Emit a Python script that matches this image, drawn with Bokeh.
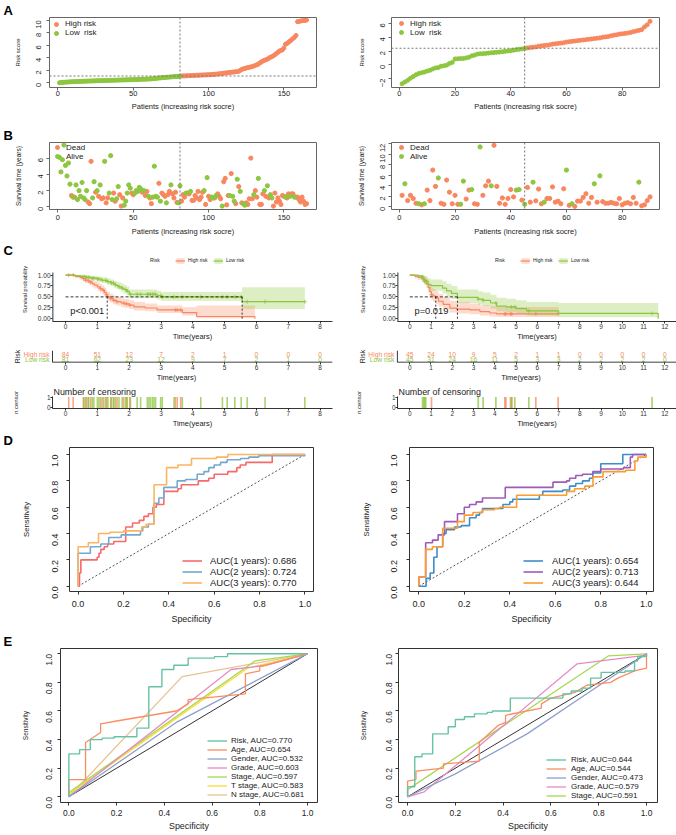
import math
import numpy as np
from bokeh.plotting import figure
from bokeh.models import (Range1d, Legend, LegendItem, FixedTicker, Span, PrintfTickFormatter)
from bokeh.layouts import column, row
from bokeh.embed import file_html
from bokeh.resources import INLINE
from bokeh.core.properties import value

# ============================ DATA ============================
# --- A: risk scores (sorted), train (left) and test (right) ---
train_low_risk = [0.02, 0.05, 0.08, 0.1, 0.12, 0.13, 0.15, 0.16, 0.18, 0.19,
                  0.2, 0.21, 0.22, 0.23, 0.24, 0.25, 0.26, 0.27, 0.28, 0.29,
                  0.3, 0.31, 0.31, 0.32, 0.33, 0.34, 0.35, 0.35, 0.36, 0.37,
                  0.38, 0.38, 0.39, 0.4, 0.41, 0.41, 0.42, 0.43, 0.44, 0.45,
                  0.45, 0.46, 0.47, 0.48, 0.48, 0.49, 0.5, 0.51, 0.51, 0.52,
                  0.53, 0.54, 0.55, 0.56, 0.57, 0.58, 0.59, 0.6, 0.61, 0.62,
                  0.63, 0.65, 0.67, 0.7, 0.72, 0.75, 0.78, 0.8, 0.82, 0.85,
                  0.87, 0.89, 0.91, 0.93, 0.95, 0.97, 0.99, 1.01, 1.03, 1.05,
                  1.08]
train_high_risk = [1.1, 1.11, 1.12, 1.13, 1.14, 1.15, 1.16, 1.18, 1.2,
                   1.21, 1.22, 1.23, 1.24, 1.25, 1.26, 1.27, 1.28, 1.29, 1.3,
                   1.32, 1.34, 1.36, 1.38, 1.4, 1.42, 1.45, 1.48, 1.52, 1.55,
                   1.58, 1.6, 1.63, 1.66, 1.7, 1.72, 1.75, 1.78, 1.8, 1.85,
                   2.0, 2.15, 2.25, 2.3, 2.38, 2.45, 2.5, 2.55, 2.62, 2.7,
                   2.8, 2.9, 3.0, 3.2, 3.35, 3.5, 3.6, 3.7, 3.8, 3.95,
                   4.1, 4.2, 4.35, 4.5, 4.7, 4.9, 5.1, 5.2, 5.3, 5.6,
                   6.2, 6.3, 6.5, 6.7, 6.9, 7.1, 7.3, 7.6, 9.8, 9.85,
                   9.9, 9.95, 10.0, 10.0, 10.05]
train_cutoff = 1.1
test_low_risk = [-2.75, -2.5, -2.25, -1.95, -1.7, -1.45, -1.25, -1.15, -1.05, -0.9,
                 -0.8, -0.6, -0.45, -0.4, -0.2, -0.15, -0.05, 0.2, 0.35, 0.85,
                 0.88, 0.9, 0.92, 1.0, 1.1, 1.3, 1.4, 1.55, 1.6, 1.62,
                 1.65, 1.7, 1.75, 1.78, 1.82, 1.85, 1.9, 1.95, 2.0, 2.05,
                 2.12, 2.2, 2.25, 2.3, 2.38]
test_high_risk = [2.45, 2.5, 2.55, 2.6, 2.7, 2.75, 2.8, 2.85, 2.9, 3.0,
                  3.05, 3.1, 3.15, 3.2, 3.3, 3.35, 3.4, 3.45, 3.5, 3.55,
                  3.6, 3.65, 3.7, 3.75, 3.8, 3.85, 3.9, 4.0, 4.05, 4.1,
                  4.2, 4.3, 4.35, 4.45, 4.5, 4.55, 4.6, 4.7, 4.8, 4.9,
                  5.0, 5.1, 5.5, 5.8, 6.3]
test_cutoff = 2.4

# --- B: survival time (years) and status (1 = dead) in risk order ---
train_low_time = [6.1, 4.3, 5.8, 7.6, 5.1, 3.8, 5.4, 2.8, 1.4, 1.2,
                  1.2, 2.7, 0.9, 2.0, 1.3, 3.0, 1.1, 0.9, 2.0, 0.6,
                  0.4, 5.6, 1.1, 3.1, 1.8, 2.0, 1.3, 2.7, 1.0, 1.1,
                  5.6, 0.5, 1.1, 1.7, 6.3, 0.9, 1.7, 0.7, 1.0, 2.5,
                  1.5, 0.1, 1.1, 0.2, 0.7, 1.7, 2.7, 2.3, 1.7, 1.5,
                  1.7, 2.0, 1.9, 2.4, 2.2, 1.8, 2.0, 1.4, 1.9, 1.3,
                  1.1, 0.4, 1.2, 5.0, 1.3, 1.2, 2.9, 0.7, 1.7, 1.5,
                  1.3, 0.5, 1.5, 1.9, 2.7, 1.6, 1.1, 1.8, 0.55, 0.5,
                  2.6]
train_low_dead = [0, 0, 0, 0, 0, 0, 0, 0, 1, 0,
                  1, 0, 0, 0, 0, 0, 0, 0, 0, 1,
                  1, 1, 0, 0, 1, 0, 1, 0, 1, 1,
                  0, 1, 1, 0, 0, 0, 1, 1, 0, 0,
                  1, 1, 1, 0, 0, 0, 0, 0, 1, 1,
                  0, 0, 0, 0, 0, 1, 0, 1, 1, 0,
                  1, 1, 0, 0, 0, 0, 1, 0, 1, 1,
                  1, 0, 1, 1, 0, 1, 1, 1, 1, 0,
                  0]
train_high_time = [0.7, 1.5, 1.2, 1.7, 1.7, 1.6, 1.9, 0.8, 0.8, 1.4,
                   1.1, 1.9, 0.9, 1.2, 1.8, 2.0, 0.3, 3.6, 1.3, 0.9,
                   1.2, 1.1, 1.1, 1.4, 1.6, 1.3, 1.0, 0.1, 3.1, 3.5,
                   0.25, 1.4, 1.4, 4.1, 1.3, 0.7, 0.4, 3.4, 2.5, 1.9,
                   0.5, 0.4, 0.2, 0.5, 0.3, 1.0, 6.0, 1.0, 1.5, 2.0,
                   1.2, 3.5, 0.3, 0.3, 1.6, 2.0, 1.3, 2.6, 1.1, 1.5,
                   1.1, 0.1, 1.7, 0.6, 1.1, 0.7, 0.3, 1.4, 1.3, 1.2,
                   1.1, 1.6, 1.3, 1.6, 1.6, 1.2, 1.2, 1.2, 0.9, 0.6,
                   1.2, 0.7, 0.3, 0.4]
train_high_dead = [1, 1, 1, 0, 1, 1, 0, 1, 1, 1,
                   1, 1, 1, 1, 1, 0, 1, 0, 1, 1,
                   0, 0, 1, 0, 1, 1, 1, 0, 1, 1,
                   1, 1, 0, 1, 0, 0, 1, 0, 1, 0,
                   1, 0, 0, 1, 1, 1, 1, 1, 0, 1,
                   1, 0, 1, 1, 1, 0, 1, 0, 1, 0,
                   0, 1, 1, 1, 1, 1, 1, 1, 1, 0,
                   1, 1, 0, 1, 1, 0, 1, 1, 1, 1,
                   1, 1, 1, 1]
test_low_time = [2.2, 4.4, 1.2, 2.2, 1.6, 0.7, 0.6, 0.4, 0.6, 3.2,
                 1.2, 7.0, 3.9, 5.5, 0.7, 0.5, 5.1, 2.8, 0.6, 2.2,
                 0.5, 0.5, 4.9, 1.5, 3.2, 3.3, 0.6, 0.5, 11.4, 2.2,
                 4.0, 4.9, 4.0, 11.7, 3.9, 0.7, 1.7, 0.5, 1.6, 3.3,
                 1.9, 3.2, 3.3, 1.3, 0.5]
test_low_dead = [1, 0, 1, 1, 1, 1, 0, 1, 0, 1,
                 1, 1, 1, 0, 1, 1, 1, 1, 1, 1,
                 1, 0, 0, 1, 1, 0, 1, 1, 0, 1,
                 1, 1, 0, 1, 1, 1, 1, 1, 1, 1,
                 1, 0, 0, 1, 0]
test_high_time = [3.7, 0.9, 4.7, 1.15, 3.4, 0.6, 0.9, 1.6, 1.6, 3.8,
                  0.9, 1.1, 0.6, 3.45, 7.0, 0.3, 0.6, 0.1, 1.1, 1.1,
                  1.8, 2.5, 0.7, 1.8, 4.4, 0.9, 5.9, 1.0, 0.7, 0.7,
                  0.85, 0.7, 0.6, 1.6, 0.4, 0.7, 0.8, 0.6, 1.8, 0.7,
                  4.7, 0.2, 0.4, 1.2, 1.9]
test_high_dead = [1, 1, 0, 1, 1, 1, 0, 1, 1, 1,
                  1, 1, 1, 1, 0, 1, 0, 1, 1, 1,
                  1, 1, 1, 1, 0, 1, 0, 1, 1, 1,
                  1, 1, 1, 1, 1, 1, 1, 1, 1, 1,
                  0, 1, 1, 1, 1]

# --- C: Kaplan-Meier estimates (time, survival, lower CI, upper CI) ---
km_train_high_t = [0, 0.3, 0.45, 0.55, 0.63, 0.73, 0.84, 0.91, 1.0, 1.08, 1.15, 1.22, 1.28,
                   1.31, 1.4, 1.5, 1.6, 1.75, 1.85, 2.0, 2.15, 2.5, 2.88, 3.67, 4.12, 5.95]
km_train_high_s = [1.0, 0.97, 0.95, 0.92, 0.88, 0.84, 0.8, 0.77, 0.73, 0.69, 0.65, 0.6, 0.55,
                   0.5, 0.46, 0.42, 0.39, 0.36, 0.34, 0.31, 0.27, 0.245, 0.2, 0.14, 0.05, 0.0]
km_train_high_lo = [1.0, 0.93, 0.9, 0.86, 0.82, 0.77, 0.72, 0.69, 0.64, 0.6, 0.56, 0.51, 0.46,
                    0.41, 0.37, 0.33, 0.3, 0.27, 0.25, 0.22, 0.19, 0.17, 0.13, 0.07, 0.01, 0.0]
km_train_high_up = [1.0, 1.0, 0.99, 0.98, 0.95, 0.92, 0.89, 0.86, 0.83, 0.79, 0.76, 0.71, 0.66,
                    0.61, 0.57, 0.53, 0.5, 0.47, 0.45, 0.42, 0.38, 0.35, 0.3, 0.26, 0.3, 0.3]
km_train_low_t = [0, 0.3, 0.47, 0.65, 0.8, 1.0, 1.15, 1.31, 1.42, 1.52, 1.6, 1.68, 1.76,
                  1.83, 1.92, 2.0, 2.88, 3.0, 5.55, 7.52]
km_train_low_s = [1.0, 0.99, 0.97, 0.95, 0.93, 0.91, 0.88, 0.85, 0.82, 0.78, 0.76, 0.73, 0.7,
                  0.67, 0.63, 0.56, 0.53, 0.5, 0.39, 0.39]
km_train_low_lo = [1.0, 0.97, 0.94, 0.91, 0.88, 0.85, 0.82, 0.78, 0.75, 0.71, 0.68, 0.65, 0.62,
                   0.58, 0.54, 0.47, 0.44, 0.41, 0.22, 0.22]
km_train_low_up = [1.0, 1.0, 1.0, 0.99, 0.98, 0.97, 0.95, 0.93, 0.9, 0.87, 0.85, 0.83, 0.8,
                   0.77, 0.74, 0.67, 0.64, 0.61, 0.72, 0.72]
km_test_high_t = [0, 0.24, 0.39, 0.55, 0.66, 0.78, 0.86, 0.94, 1.02, 1.1, 1.22, 1.35, 1.57,
                  1.88, 2.2, 2.82, 3.3, 3.76, 4.08, 7.0]
km_test_high_s = [1.0, 0.97, 0.95, 0.92, 0.88, 0.8, 0.72, 0.62, 0.55, 0.52, 0.47, 0.4, 0.33,
                  0.24, 0.22, 0.2, 0.16, 0.13, 0.11, 0.11]
km_test_high_lo = [1.0, 0.92, 0.89, 0.84, 0.79, 0.7, 0.6, 0.5, 0.43, 0.39, 0.34, 0.28, 0.21,
                   0.14, 0.12, 0.1, 0.07, 0.05, 0.04, 0.04]
km_test_high_up = [1.0, 1.0, 1.0, 1.0, 0.98, 0.92, 0.85, 0.77, 0.7, 0.68, 0.63, 0.56, 0.5,
                   0.41, 0.38, 0.35, 0.31, 0.29, 0.27, 0.27]
km_test_low_t = [0, 0.4, 0.55, 0.62, 0.7, 0.86, 1.0, 1.54, 1.73, 1.96, 2.24, 3.22, 3.45,
                 3.8, 4.08, 4.55, 5.0, 5.5, 7.0, 11.69]
km_test_low_s = [1.0, 0.98, 0.96, 0.91, 0.86, 0.78, 0.76, 0.7, 0.64, 0.58, 0.49, 0.45, 0.42,
                 0.36, 0.29, 0.27, 0.23, 0.18, 0.12, 0.0]
km_test_low_lo = [1.0, 0.94, 0.9, 0.83, 0.77, 0.67, 0.64, 0.58, 0.51, 0.45, 0.36, 0.32, 0.29,
                  0.23, 0.17, 0.15, 0.11, 0.07, 0.03, 0.0]
km_test_low_up = [1.0, 1.0, 1.0, 0.99, 0.97, 0.92, 0.9, 0.86, 0.8, 0.75, 0.67, 0.63, 0.6,
                  0.55, 0.48, 0.46, 0.42, 0.38, 0.36, 0.0]
train_medians = [1.31, 5.55]
test_medians = [1.22, 2.24]
train_pval = "p<0.001"
test_pval = "p=0.019"
train_censor_high = [0.1, 0.24, 0.56, 0.63, 0.71, 0.79, 1.1, 1.2, 1.29, 1.42, 1.52, 1.62,
                     1.83, 1.92, 2.02, 3.45, 3.51, 3.62]
train_censor_low = [0.58, 0.66, 0.73, 0.84, 0.89, 1.0, 1.05, 1.15, 1.26, 1.33, 1.44, 1.5,
                    1.57, 1.68, 1.78, 1.89, 1.94, 2.04, 2.25, 2.36, 2.57, 2.62, 2.67, 2.73,
                    2.78, 2.83, 2.99, 3.04, 3.41, 3.67, 4.25, 4.93, 5.08, 5.32, 5.52, 5.71,
                    6.27, 7.52]
test_censor_high = [1.02, 4.47, 4.52, 4.74, 4.8, 5.93, 6.98]
test_censor_low = [0.6, 0.66, 0.7, 0.75, 3.22, 3.45, 4.05, 4.78, 4.94, 5.6, 11.4]
train_risk_high = [84, 51, 12, 7, 2, 1, 0, 0, 0]
train_risk_low = [81, 62, 23, 12, 9, 7, 2, 1, 0]
test_risk_high = [45, 24, 10, 9, 5, 2, 1, 1, 0, 0, 0, 0, 0]
test_risk_low = [45, 31, 24, 16, 11, 5, 3, 3, 2, 2, 2, 2, 0]

# --- D: time-dependent ROC (x = 1 - specificity, y = sensitivity) ---
roc_train_labels = ["AUC(1 years): 0.686", "AUC(2 years): 0.724", "AUC(3 years): 0.770"]
roc_train_1y_x = [0, 0.006, 0.012, 0.084, 0.092, 0.1, 0.115, 0.13, 0.157, 0.21, 0.24, 0.27, 0.29,
                  0.31, 0.33, 0.345, 0.378, 0.44, 0.455, 0.53, 0.576, 0.6, 0.66, 0.7, 0.715, 0.74,
                  0.856, 1.0]
roc_train_1y_y = [0, 0.1, 0.2, 0.22, 0.25, 0.28, 0.3, 0.32, 0.34, 0.45, 0.48, 0.5, 0.53,
                  0.55, 0.6, 0.62, 0.72, 0.74, 0.77, 0.8, 0.82, 0.85, 0.87, 0.9, 0.92, 0.94,
                  1.0, 1.0]
roc_train_2y_x = [0, 0, 0.054, 0.1, 0.135, 0.19, 0.275, 0.285, 0.31, 0.334, 0.356, 0.378, 0.437,
                  0.474, 0.525, 0.555, 0.576, 0.6, 0.628, 0.657, 0.716, 0.753, 0.797, 1.0]
roc_train_2y_y = [0, 0.25, 0.3, 0.32, 0.37, 0.39, 0.42, 0.45, 0.47, 0.63, 0.67, 0.75, 0.8,
                  0.81, 0.85, 0.87, 0.9, 0.92, 0.94, 0.96, 0.97, 0.98, 0.99, 1.0]
roc_train_3y_x = [0, 0, 0.045, 0.09, 0.14, 0.2, 0.28, 0.3, 0.335, 0.39, 0.44, 0.5, 0.61, 0.66, 1.0]
roc_train_3y_y = [0, 0.3, 0.33, 0.4, 0.41, 0.42, 0.45, 0.47, 0.77, 0.9, 0.92, 0.97, 0.98, 1.0, 1.0]
roc_test_labels = ["AUC(1 years): 0.654", "AUC(2 years): 0.713", "AUC(3 years): 0.644"]
roc_test_1y_x = [0, 0.032, 0.05, 0.066, 0.08, 0.105, 0.12, 0.157, 0.186, 0.223, 0.252, 0.267,
                 0.28, 0.37, 0.4, 0.413, 0.53, 0.545, 0.633, 0.663, 0.69, 0.72, 0.75, 0.765,
                 0.8, 0.897, 1.0]
roc_test_1y_y = [0, 0.06, 0.1, 0.22, 0.3, 0.4, 0.43, 0.45, 0.46, 0.52, 0.54, 0.56,
                 0.59, 0.62, 0.64, 0.66, 0.69, 0.72, 0.73, 0.76, 0.78, 0.8, 0.82, 0.86,
                 0.93, 1.0, 1.0]
roc_test_2y_x = [0, 0, 0.03, 0.06, 0.085, 0.113, 0.17, 0.2, 0.223, 0.252, 0.28, 0.38, 0.59,
                 0.65, 0.663, 0.69, 0.72, 0.765, 0.8, 0.9, 0.93, 0.94, 1.0]
roc_test_2y_y = [0, 0.07, 0.33, 0.35, 0.39, 0.49, 0.55, 0.6, 0.62, 0.64, 0.67, 0.75, 0.79,
                 0.8, 0.82, 0.84, 0.85, 0.87, 0.89, 0.9, 0.98, 1.0, 1.0]
roc_test_3y_x = [0, 0, 0.03, 0.06, 0.105, 0.17, 0.2, 0.238, 0.28, 0.333, 0.355, 0.43, 0.56,
                 0.65, 0.685, 0.73, 0.766, 0.81, 0.91, 0.95, 0.963, 1.0]
roc_test_3y_y = [0, 0.07, 0.28, 0.3, 0.44, 0.49, 0.54, 0.56, 0.58, 0.59, 0.6, 0.69, 0.69,
                 0.72, 0.74, 0.76, 0.83, 0.87, 0.88, 0.95, 0.98, 1.0]

# --- E: ROC of risk score and clinical variables ---
clin_train_labels = ["Risk, AUC=0.770", "Age, AUC=0.654", "Gender, AUC=0.532",
                     "Grade, AUC=0.603", "Stage, AUC=0.597", "T stage, AUC=0.583",
                     "N stage, AUC=0.681"]
clin_train_risk_x = [0, 0, 0.045, 0.09, 0.14, 0.19, 0.285, 0.335, 0.39, 0.44, 0.5, 0.61, 0.665, 1.0]
clin_train_risk_y = [0, 0.3, 0.33, 0.4, 0.41, 0.42, 0.48, 0.77, 0.89, 0.92, 0.97, 0.98, 1.0, 1.0]
clin_train_age_x = [0, 0, 0.07, 0.07, 0.133, 0.133, 0.2, 0.45, 0.5, 0.5, 0.74, 0.74, 0.8, 0.8, 1.0]
clin_train_age_y = [0, 0.12, 0.12, 0.38, 0.45, 0.51, 0.53, 0.6, 0.65, 0.68, 0.72, 0.86, 0.88, 0.91, 1.0]
clin_train_gender_x = [0, 0.45, 1.0]
clin_train_gender_y = [0, 0.52, 1.0]
clin_train_grade_x = [0, 0.68, 0.83, 1.0]
clin_train_grade_y = [0, 0.89, 0.92, 1.0]
clin_train_stage_x = [0, 0, 0.78, 1.0]
clin_train_stage_y = [0, 0.03, 0.95, 1.0]
clin_train_tstage_x = [0, 0, 0.75, 1.0]
clin_train_tstage_y = [0, 0.02, 0.9, 1.0]
clin_train_nstage_x = [0, 0.475, 1.0]
clin_train_nstage_y = [0, 0.84, 1.0]
clin_test_labels = ["Risk, AUC=0.644", "Age, AUC=0.544", "Gender, AUC=0.473",
                    "Grade, AUC=0.579", "Stage, AUC=0.591"]
clin_test_risk_x = roc_test_3y_x
clin_test_risk_y = roc_test_3y_y
clin_test_age_x = [0, 0, 0.035, 0.035, 0.15, 0.15, 0.3, 0.3, 0.38, 0.41, 0.41, 0.56, 0.56, 0.6,
                   0.7, 0.75, 0.85, 0.88, 0.95, 1.0, 1.0]
clin_test_age_y = [0, 0.11, 0.12, 0.18, 0.2, 0.23, 0.25, 0.38, 0.5, 0.52, 0.57, 0.62, 0.65, 0.69,
                   0.73, 0.78, 0.8, 0.83, 0.88, 0.9, 1.0]
clin_test_gender_x = [0, 0.2, 0.5, 0.75, 1.0]
clin_test_gender_y = [0, 0.16, 0.44, 0.72, 1.0]
clin_test_grade_x = [0, 0.07, 0.71, 1.0, 1.0]
clin_test_grade_y = [0, 0.035, 0.93, 0.99, 1.0]
clin_test_stage_x = [0, 0, 0.84, 1.0]
clin_test_stage_y = [0, 0.05, 0.985, 1.0]

# ============================ STYLE ============================
FONT = "Liberation Sans"
HI = "#F8875F"
LO = "#8DC63F"
SET2 = ["#66C2A5", "#FC8D62", "#8DA0CB", "#E78AC3", "#A6D854", "#FFD92F", "#E5C494"]
W = 338


def fig(h, bl, br, bt, bb, xr, yr):
    p = figure(width=W, height=h, x_range=Range1d(*xr), y_range=Range1d(*yr),
               output_backend="svg", toolbar_location=None,
               min_border_left=bl, min_border_right=br, min_border_top=bt, min_border_bottom=bb)
    p.xgrid.visible = False
    p.ygrid.visible = False
    p.outline_line_color = None
    p.background_fill_color = "white"
    p.border_fill_color = "white"
    p.title.standoff = 0
    for ax in (p.xaxis[0], p.yaxis[0]):
        ax.axis_label_text_font = FONT
        ax.major_label_text_font = FONT
        ax.axis_label_text_font_style = "normal"
        ax.minor_tick_line_color = None
        ax.major_label_text_color = "#222"
        ax.axis_label_text_color = "#222"
    return p


def set_title(p, text, bl, size=13, bold=True, xoff=3):
    p.title.text = text
    p.title.align = "left"
    p.title.offset = xoff - bl
    p.title.standoff = 0
    p.title.text_font = FONT
    p.title.text_font_size = f"{size}px"
    p.title.text_font_style = "bold" if bold else "normal"
    p.title.text_color = "black"


def rstyle(p, tick_px, xs, ys, xt_px, yt_px, xls, yls, box="#444"):
    p.outline_line_color = box
    p.outline_line_width = 1
    for ax in (p.xaxis[0], p.yaxis[0]):
        ax.axis_line_color = None
        ax.major_tick_out = 3
        ax.major_tick_in = 0
        ax.major_tick_line_color = box
        ax.major_label_text_font_size = f"{tick_px}px"
    p.xaxis[0].major_label_standoff = int(round(xs))
    p.yaxis[0].major_label_standoff = int(round(ys))
    p.xaxis[0].axis_label_text_font_size = f"{xt_px}px"
    p.yaxis[0].axis_label_text_font_size = f"{yt_px}px"
    p.xaxis[0].axis_label_standoff = int(round(xls))
    p.yaxis[0].axis_label_standoff = int(round(yls))
    p.yaxis[0].major_label_orientation = math.pi / 2


def classic(p, tick_px=6.5, xt_px=7.5, yt_px=5.6, yls=7):
    for ax in (p.xaxis[0], p.yaxis[0]):
        ax.axis_line_color = "black"
        ax.axis_line_width = 0.8
        ax.major_tick_out = 2
        ax.major_tick_in = 0
        ax.major_tick_line_color = "black"
        ax.major_tick_line_width = 0.8
        ax.major_label_text_font_size = f"{tick_px}px"
        ax.major_label_text_color = "#333"
        ax.major_label_standoff = 0
    p.xaxis[0].axis_label = "Time(years)"
    p.xaxis[0].axis_label_text_font_size = f"{xt_px}px"
    p.xaxis[0].axis_label_standoff = 0
    p.yaxis[0].axis_label_text_font_size = f"{yt_px}px"
    p.yaxis[0].axis_label_standoff = int(yls)


def add_rows(p, entries, x_rel, centers, font_px, gw, gh, standoff):
    for (text, rends), yc in zip(entries, centers):
        hh = max(gh, font_px * 1.15)
        p.add_layout(Legend(items=[LegendItem(label=text, renderers=rends)],
                            location=(x_rel, yc - hh / 2), orientation="vertical",
                            padding=0, margin=0, spacing=0, glyph_width=int(gw),
                            glyph_height=int(gh), label_height=int(gh),
                            label_standoff=int(round(standoff)),
                            label_text_font=FONT, label_text_font_size=f"{font_px}px",
                            label_text_color="#222", background_fill_alpha=0,
                            border_line_color=None))


# ============================ PANEL A ============================
def risk_panel(low, high, cut, bl, br, xr, yr, xt, yt, ys, yls, key_rel, rows, ch=None):
    h, bt, bb = 118, 16, 31
    fh = h - bt - bb
    p = fig(h, bl, br, bt, bb, xr, yr)
    rstyle(p, 7.5, 0, ys, 7.5, 6, 3, yls, box="#666")
    p.xaxis[0].ticker = FixedTicker(ticks=xt)
    p.yaxis[0].ticker = FixedTicker(ticks=yt)
    p.xaxis[0].axis_label = "Patients (increasing risk socre)"
    p.yaxis[0].axis_label = "Risk score"
    nl = len(low)
    xl = list(range(1, nl + 1))
    xh = list(range(nl + 1, nl + len(high) + 1))
    rh = p.scatter(xh, high, size=4, fill_color=HI, line_color=HI)
    rl = p.scatter(xl, low, size=4, fill_color=LO, line_color=LO)
    p.add_layout(Span(location=nl, dimension="height", line_dash="2 2", line_color="#777", line_width=1))
    p.add_layout(Span(location=cut, dimension="width", line_dash="2 2", line_color="#777", line_width=1))
    add_rows(p, [("High risk", [rh]), ("Low  risk", [rl])], key_rel,
             [fh - rows[0], fh - rows[1]], 8, 10, 10, 4)
    if ch:
        set_title(p, ch, bl)
    return p


pA1 = risk_panel(train_low_risk, train_high_risk, train_cutoff, 49, 22, (-5.6, 171.6),
                 (-0.74, 10.47), [0, 50, 100, 150], [0, 2, 4, 6, 8, 10], 8, 10, 2, (7.5, 16.5), "A")
pA2 = risk_panel(test_low_risk, test_high_risk, test_cutoff, 53, 17, (-2.8, 93.4),
                 (-3.29, 6.86), [0, 20, 40, 60, 80], [-2, 0, 2, 4, 6], 6, 10, 5, (7.3, 16.3))


# ============================ PANEL B ============================
def surv_panel(lt, ld, ht, hd, bl, br, xr, yr, xt, yt, ys, yls, key_rel, rows, ch=None):
    h, bt, bb = 120, 24, 26
    fh = h - bt - bb
    p = fig(h, bl, br, bt, bb, xr, yr)
    rstyle(p, 7.5, 2, ys, 7.5, 6.6, 4, yls, box="#666")
    p.xaxis[0].ticker = FixedTicker(ticks=xt)
    p.yaxis[0].ticker = FixedTicker(ticks=yt)
    p.xaxis[0].axis_label = "Patients (increasing risk socre)"
    p.yaxis[0].axis_label = "Survival time (years)"
    times = list(lt) + list(ht)
    dead = list(ld) + list(hd)
    idx = list(range(1, len(times) + 1))
    xd = [i for i, d in zip(idx, dead) if d == 1]
    yd = [t for t, d in zip(times, dead) if d == 1]
    xa = [i for i, d in zip(idx, dead) if d == 0]
    ya = [t for t, d in zip(times, dead) if d == 0]
    rd = p.scatter(xd, yd, size=4.2, fill_color=HI, line_color=HI)
    ra = p.scatter(xa, ya, size=4.2, fill_color=LO, line_color=LO)
    p.add_layout(Span(location=len(lt), dimension="height", line_dash="2 2", line_color="#777", line_width=1))
    add_rows(p, [("Dead", [rd]), ("Alive", [ra])], key_rel,
             [fh - rows[0], fh - rows[1]], 8, 10, 10, 4)
    if ch:
        set_title(p, ch, bl)
    return p


pB1 = surv_panel(train_low_time, train_low_dead, train_high_time, train_high_dead, 49, 22,
                 (-5.6, 171.6), (-0.32, 7.92), [0, 50, 100, 150], [0, 2, 4, 6], 6, 11,
                 3, (8, 17), "B")
pB2 = surv_panel(test_low_time, test_low_dead, test_high_time, test_high_dead, 53, 17,
                 (-2.8, 93.4), (-0.49, 12.24), [0, 20, 40, 60, 80], [0, 2, 4, 6, 8, 10, 12], 6, 10,
                 5, (8, 17))


# ============================ PANEL C ============================
KM_YMIN, KM_PANEL_TOP, KM_YTOP = -0.065, 1.058, 1.404


def km_panel(curves, censors, medians, pval, pval_x, xr, bl, br, nt, yls, leg_rel, ch=None):
    h, bt, bb = 105, 19, 18
    p = fig(h, bl, br, bt, bb, xr, (KM_YMIN, KM_YTOP))
    classic(p, yls=yls)
    p.yaxis[0].axis_line_color = None
    p.yaxis[0].axis_label = "Survival probability"
    p.xaxis[0].ticker = FixedTicker(ticks=list(range(nt)))
    p.yaxis[0].ticker = FixedTicker(ticks=[0, 0.25, 0.5, 0.75, 1.0])
    p.yaxis[0].formatter = PrintfTickFormatter(format="%.2f")
    # panel's left axis line (only up to the top of the survival panel)
    p.segment(x0=[xr[0]], y0=[KM_YMIN], x1=[xr[0]], y1=[KM_PANEL_TOP], line_color="black",
              line_width=1.6)
    rends = {}
    for key, color in (("hi", HI), ("lo", LO)):
        T, S, L, U = curves[key]
        band = p.varea_step(x=T, y1=L, y2=U, step_mode="after", fill_color=color,
                            fill_alpha=0.3)
        line = p.step(T, S, mode="after", line_color=color, line_width=1.2)
        c = np.array(censors[key])
        idx = np.searchsorted(np.array(T), c, side="right") - 1
        p.scatter(c, np.array(S)[idx], marker="cross", size=4, line_color=color, line_width=0.8)
        rends[key] = [band, line]
    p.line([0, max(medians)], [0.5, 0.5], line_dash="3 2", line_color="black", line_width=0.8)
    p.segment(x0=medians, y0=[0] * len(medians), x1=medians, y1=[0.5] * len(medians),
              line_dash="2 2", line_color="black", line_width=0.8)
    p.text(x=[pval_x], y=[0.17], text=[pval], text_font=value(FONT), text_font_size="9.3px",
           text_baseline="middle", text_align="left", text_color="#222")
    dummy = p.line(x=[], y=[], line_alpha=0)
    leg = Legend(items=[LegendItem(label="Risk", renderers=[dummy]),
                        LegendItem(label="High risk", renderers=rends["hi"]),
                        LegendItem(label="Low risk", renderers=rends["lo"])],
                 location=(leg_rel, 57.5), orientation="horizontal", padding=1, margin=0,
                 spacing=5, glyph_width=10, glyph_height=7, label_height=7, label_standoff=3,
                 label_text_font=FONT, label_text_font_size="5px", label_text_color="#222",
                 background_fill_alpha=0, border_line_color=None)
    p.add_layout(leg)
    if ch:
        set_title(p, ch, bl)
    return p


pC1 = km_panel({"hi": (km_train_high_t, km_train_high_s, km_train_high_lo, km_train_high_up),
                "lo": (km_train_low_t, km_train_low_s, km_train_low_lo, km_train_low_up)},
               {"hi": train_censor_high, "lo": train_censor_low}, train_medians, train_pval, 0.15,
               (-0.41, 8.39), 52, 6, 9, 7, 85, "C")
pC2 = km_panel({"hi": (km_test_high_t, km_test_high_s, km_test_high_lo, km_test_high_up),
                "lo": (km_test_low_t, km_test_low_s, km_test_low_lo, km_test_low_up)},
               {"hi": test_censor_high, "lo": test_censor_low}, test_medians, test_pval, 0.22,
               (-0.58, 12.55), 59, 0, 13, 14, 85)


def risk_table(hi, lo, xr, bl, br, axis_x, px_per_unit):
    h, bt, bb = 41, 7, 18
    yr = (0.386, 2.67)
    p = fig(h, bl, br, bt, bb, xr, yr)
    classic(p, yt_px=6.9, yls=0)
    p.xaxis[0].axis_line_color = None
    p.yaxis[0].axis_line_color = None
    p.yaxis[0].ticker = FixedTicker(ticks=[])
    p.yaxis[0].axis_label = "Risk"
    p.xaxis[0].ticker = FixedTicker(ticks=list(range(len(hi))))
    xs = list(range(len(hi)))
    p.text(x=xs, y=[2] * len(xs), text=[str(v) for v in hi], text_color=HI,
           text_font=value(FONT), text_font_size="6.7px", text_align="center", text_baseline="middle")
    p.text(x=xs, y=[1] * len(xs), text=[str(v) for v in lo], text_color=LO,
           text_font=value(FONT), text_font_size="6.7px", text_align="center", text_baseline="middle")
    lx = axis_x - 3.0 / px_per_unit
    p.text(x=[lx, lx], y=[2, 1], text=["High risk", "Low risk"], text_color=[HI, LO],
           text_font=value(FONT), text_font_size="6.7px", text_align="right", text_baseline="middle")
    p.segment(x0=[axis_x, axis_x], y0=[yr[0], yr[0]], x1=[axis_x, xr[1]], y1=[yr[1], yr[0]],
              line_color="black", line_width=[0.8, 1.6])
    return p


pR1 = risk_table(train_risk_high, train_risk_low, (-1.415, 8.39), 20, 6, -0.41, 31.8)
pR2 = risk_table(test_risk_high, test_risk_low, (-2.08, 12.55), 27, 0, -0.58, 21.25)


def ncensor(ch_hi, ch_lo, xr, bl, br, nt, bar_w, yls):
    h, bt, bb = 46, 10, 18
    p = fig(h, bl, br, bt, bb, xr, (-0.05, 1.05))
    classic(p, yt_px=6, yls=yls)
    p.yaxis[0].axis_label = "n.censor"
    p.xaxis[0].ticker = FixedTicker(ticks=list(range(nt)))
    p.yaxis[0].ticker = FixedTicker(ticks=[0, 1])
    p.vbar(x=ch_hi, top=1, bottom=0, width=bar_w, fill_color=HI, line_color=None, fill_alpha=0.75)
    p.vbar(x=ch_lo, top=1, bottom=0, width=bar_w, fill_color=LO, line_color=None, fill_alpha=0.75)
    set_title(p, "Number of censoring", bl, size=8.9, bold=False, xoff=bl + 1)
    p.title.text_color = "#222"
    return p


pN1 = ncensor(train_censor_high, train_censor_low, (-0.41, 8.39), 52, 6, 9, 0.05, 25)
pN2 = ncensor(test_censor_high, test_censor_low, (-0.58, 12.55), 59, 0, 13, 0.08, 27)


# ============================ PANEL D / E ============================
def roc_fig(h, bl, br, bt, bb, xr, yr, tick_px, xs, ys, xt_px, yt_px, xls, yls):
    p = fig(h, bl, br, bt, bb, xr, yr)
    rstyle(p, tick_px, xs, ys, xt_px, yt_px, xls, yls, box="#333")
    ticks = [0, 0.2, 0.4, 0.6, 0.8, 1.0]
    p.xaxis[0].ticker = FixedTicker(ticks=ticks)
    p.yaxis[0].ticker = FixedTicker(ticks=ticks)
    p.xaxis[0].formatter = PrintfTickFormatter(format="%.1f")
    p.yaxis[0].formatter = PrintfTickFormatter(format="%.1f")
    p.xaxis[0].axis_label = "Specificity"
    p.yaxis[0].axis_label = "Sensitivity"
    return p


def roc_time(curves, labels, colors, bl, br, xr, key_rel, standoff, ylab_px, ys, yls, ch=None):
    h, bt, bb = 198, 17, 37
    p = roc_fig(h, bl, br, bt, bb, xr, (-0.04, 1.053), 9, 6, ys, 8.9, ylab_px, 4, yls)
    p.line([0, 1], [0, 1], line_dash="2 2", line_color="#555", line_width=1)
    rends = [p.step(x, y, mode="after", line_color=c, line_width=1.6)
             for (x, y), c in zip(curves, colors)]
    n = len(labels)
    add_rows(p, [(t, [r]) for t, r in zip(labels, rends)], key_rel,
             [9 + 10.7 * (n - 1 - i) for i in range(n)], 9.5, 20, 11, standoff)
    if ch:
        set_title(p, ch, bl)
    return p


pD1 = roc_time([(roc_train_1y_x, roc_train_1y_y), (roc_train_2y_x, roc_train_2y_y),
                (roc_train_3y_x, roc_train_3y_y)], roc_train_labels,
               ["#F8696B", "#74A9CF", "#FDB462"], 69, 25, (-0.038, 1.038), 113, 8, 7.8, 11, 16, "D")
pD2 = roc_time([(roc_test_1y_x, roc_test_1y_y), (roc_test_2y_x, roc_test_2y_y),
                (roc_test_3y_x, roc_test_3y_y)], roc_test_labels,
               ["#3C8DC8", "#9D5CB8", "#FF9A2E"], 71, 23, (-0.041, 1.032), 114, 9, 7.5, 12, 15)


def roc_clin(risk, others, labels, bl, br, xr, key_rel, standoff, ys, yls, row0, rstep, ch=None):
    h, bt, bb = 205, 20, 30
    p = roc_fig(h, bl, br, bt, bb, xr, (-0.04, 1.037), 8.4, 4, ys, 8.9, 6.5, 2, yls)
    p.line([0, 1], [0, 1], line_color="#333", line_width=1)
    rends = []
    for (x, y), c in reversed(list(zip(others, SET2[1:len(others) + 1]))):
        rends.insert(0, p.line(x, y, line_color=c, line_width=1.3))
    r0 = p.step(risk[0], risk[1], mode="after", line_color=SET2[0], line_width=1.4)
    rends.insert(0, r0)
    n = len(labels)
    add_rows(p, [(t, [r]) for t, r in zip(labels, rends)], key_rel,
             [row0 + rstep * (n - 1 - i) for i in range(n)], 8, 20, 9, standoff)
    if ch:
        set_title(p, ch, bl)
    return p


pE1 = roc_clin((clin_train_risk_x, clin_train_risk_y),
               [(clin_train_age_x, clin_train_age_y), (clin_train_gender_x, clin_train_gender_y),
                (clin_train_grade_x, clin_train_grade_y), (clin_train_stage_x, clin_train_stage_y),
                (clin_train_tstage_x, clin_train_tstage_y), (clin_train_nstage_x, clin_train_nstage_y)],
               clin_train_labels, 60, 21, (-0.035, 1.042), 147, 4, 8, 12, 7.6, 9, "E")
pE2 = roc_clin((clin_test_risk_x, clin_test_risk_y),
               [(clin_test_age_x, clin_test_age_y), (clin_test_gender_x, clin_test_gender_y),
                (clin_test_grade_x, clin_test_grade_y), (clin_test_stage_x, clin_test_stage_y)],
               clin_test_labels, 60, 19, (-0.038, 1.046), 148, 5, 6, 14, 7, 9)

layout = column(row(pA1, pA2), row(pB1, pB2), row(pC1, pC2), row(pR1, pR2),
                row(pN1, pN2), row(pD1, pD2), row(pE1, pE2))

open("out.html", "w").write(file_html(layout, INLINE))
